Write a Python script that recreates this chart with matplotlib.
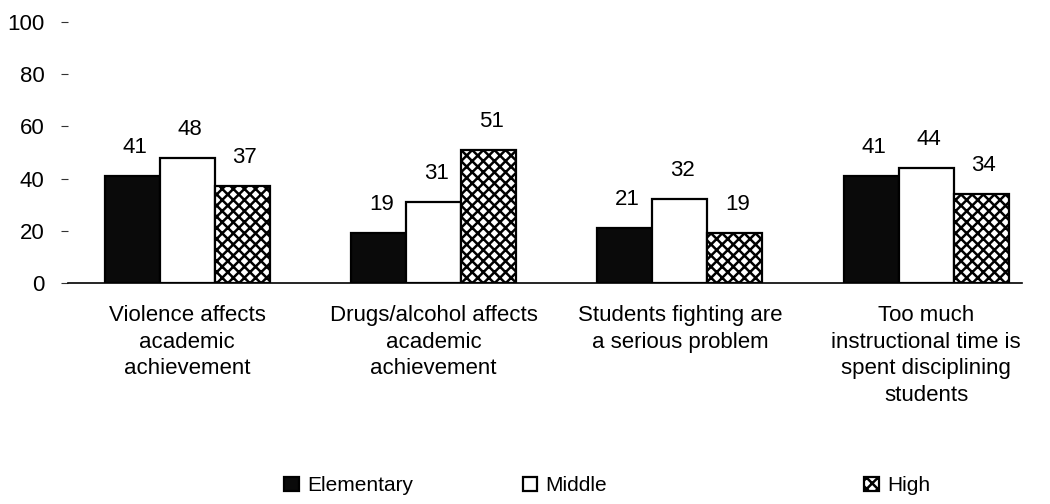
import numpy as np
import matplotlib
matplotlib.use("Agg")
import matplotlib.pyplot as plt

plt.rcParams["font.family"] = ["Liberation Sans", "DejaVu Sans"]
plt.rcParams["hatch.linewidth"] = 1.8

# ─── Data ────────────────────────────────────────────────────────────────────
categories = [
    "Violence affects\nacademic\nachievement",
    "Drugs/alcohol affects\nacademic\nachievement",
    "Students fighting are\na serious problem",
    "Too much\ninstructional time is\nspent disciplining\nstudents",
]
elementary = [41, 19, 21, 41]
middle     = [48, 31, 32, 44]
high       = [37, 51, 19, 34]

SERIES = [
    # (label,        values,     face,      hatch)
    ("Elementary", elementary, "#0a0a0a", None),
    ("Middle",     middle,     "white",   None),
    ("High",       high,       "white",   "xxx"),
]

# ─── Plot ────────────────────────────────────────────────────────────────────
fig = plt.figure(figsize=(10.5, 5.04), dpi=100)
ax = fig.add_axes([0.065, 0.4385, 0.9086, 0.5179])

x = np.arange(len(categories))
w = 0.223
handles = []
for i, (label, vals, face, hatch) in enumerate(SERIES):
    bars = ax.bar(x + (i - 1) * w, vals, w, color=face, edgecolor="black",
                  linewidth=1.6, hatch=hatch, label=label)
    handles.append(bars)
    for b, v in zip(bars, vals):
        ax.annotate(str(v), (b.get_x() + b.get_width() / 2, v),
                    xytext=(2, 13), textcoords="offset points",
                    ha="center", va="bottom", fontsize=16)

ax.set_xlim(-0.483, 3.39)
ax.set_ylim(0, 100)
ax.set_yticks(range(0, 101, 20))
ax.set_xticks(x)
ax.set_xticklabels(categories, fontsize=16, linespacing=1.35)
ax.tick_params(axis="x", length=0, pad=16)
ax.tick_params(axis="y", length=5, width=0.8, colors="#333333", pad=12,
               labelsize=16, labelcolor="black")
for s in ["top", "right", "left"]:
    ax.spines[s].set_visible(False)
ax.spines["bottom"].set_linewidth(1.2)

# legend entries spread along the bottom
for h, xpos in zip(handles, [0.253, 0.48, 0.805]):
    fig.legend(handles=[h], loc="center left", bbox_to_anchor=(xpos, 0.036),
               frameon=False, fontsize=15, handlelength=0.7, handleheight=0.7,
               handletextpad=0.4)

fig.savefig("out.png", dpi=100)
